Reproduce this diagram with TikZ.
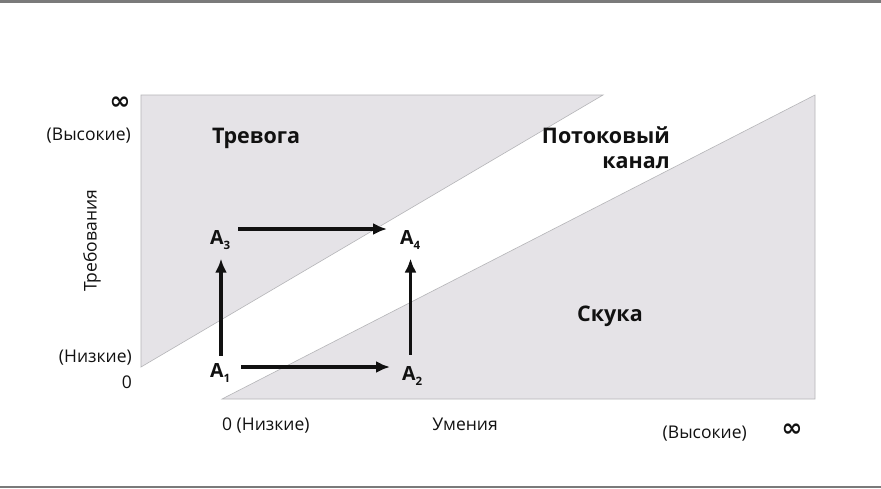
\documentclass[tikz,border=0pt]{standalone}
\usepackage{fontspec}
\setmainfont{Open Sans}
\newfontfamily\symf{DejaVu Sans}
\usetikzlibrary{arrows.meta}
\definecolor{tri}{HTML}{E5E3E7}
\definecolor{triedge}{HTML}{B5B5B8}
\definecolor{rulec}{HTML}{7A7A7A}
\definecolor{ink}{HTML}{111111}
\tikzset{
  lbl/.style={inner sep=0pt, text=ink, font=\fontsize{17.5}{20}\selectfont},
  big/.style={inner sep=0pt, text=ink, font=\fontsize{21.5}{26}\selectfont\bfseries},
  inf/.style={inner sep=0pt, text=ink, font=\symf\fontsize{25}{26}\selectfont\bfseries},
  pt/.style={inner sep=0pt, text=ink, font=\fontsize{19.5}{20}\selectfont\bfseries},
  arr/.style={line width=3.2pt, draw=ink, -{Latex[length=14pt,width=12pt]}},
  region/.style={fill=tri, draw=triedge, line width=0.6pt}
}
\newcommand{\Ap}[1]{A\raisebox{-0.5ex}{\fontsize{11.5}{12}\selectfont #1}}
\begin{document}
\begin{tikzpicture}[x=1pt,y=-1pt]
\useasboundingbox (0,0) rectangle (881,488);
\fill[white] (0,0) rectangle (881,488);
\fill[rulec] (0,0) rectangle (881,2.5);
\fill[rulec] (0,485.5) rectangle (881,488);
% regions
\filldraw[region] (141,95) -- (603,95) -- (141,367) -- cycle;
\filldraw[region] (222,399) -- (815,95) -- (815,399) -- cycle;
% axis labels
\node[inf] (infy) at (120,103) {∞};
\node[lbl, anchor=base east] (hiy) at (131,140) {(Высокие)};
\node[lbl, rotate=90] (demand) at (92,241) {Требования};
\node[lbl, anchor=base east] (loy) at (132,362) {(Низкие)};
\node[lbl, anchor=base east] (zeroy) at (132,388) {0};
\node[lbl, anchor=base west] (lox) at (222,430) {0 (Низкие)};
\node[lbl, anchor=base] (skill) at (465,430) {Умения};
\node[lbl, anchor=base east] (hix) at (747,438) {(Высокие)};
\node[inf] (infx) at (792,430) {∞};
% region labels
\node[big, anchor=base west] (anx) at (212,143) {Тревога};
\node[big, anchor=base east] (flow1) at (670,143) {Потоковый};
\node[big, anchor=base east] (flow2) at (670,168) {канал};
\node[big, anchor=base west] (bore) at (577,321) {Скука};
% points
\node[pt, anchor=base west] (A1) at (210,377) {\Ap{1}};
\node[pt, anchor=base west] (A2) at (402,380) {\Ap{2}};
\node[pt, anchor=base west] (A3) at (210,244) {\Ap{3}};
\node[pt, anchor=base west] (A4) at (400,244) {\Ap{4}};
\coordinate (row1) at (0,367);
\coordinate (row3) at (0,229);
\coordinate (col1) at (221,0);
\coordinate (col2) at (410.5,0);
\draw[arr, shorten <=7pt, shorten >=9pt] (A1.north -| col1) -- (A3.south -| col1);
\draw[arr, shorten <=11pt, shorten >=9pt] (A2.north -| col2) -- (A4.south -| col2);
\draw[arr, shorten <=11pt, shorten >=12pt] (A1.east |- row1) -- (A2.west |- row1);
\draw[arr, shorten <=8pt, shorten >=13pt] (A3.east |- row3) -- (A4.west |- row3);
\end{tikzpicture}
\end{document}
